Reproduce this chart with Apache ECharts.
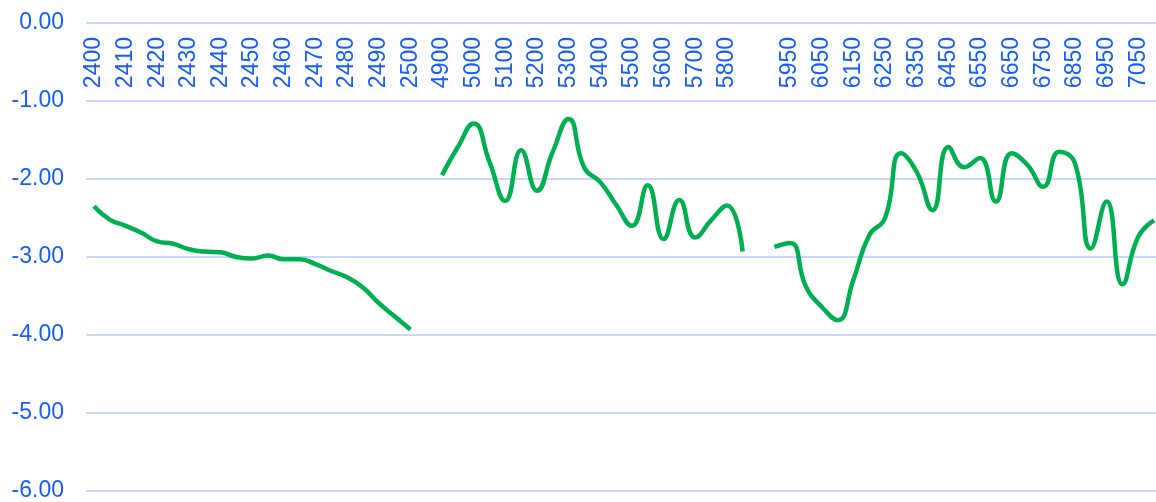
<!DOCTYPE html>
<html>
<head>
<meta charset="utf-8">
<style>
  html, body { margin: 0; padding: 0; background: #ffffff; }
  #depthLine { width: 1156px; height: 502px; }
</style>
<script src="https://cdn.jsdelivr.net/npm/echarts@6/dist/echarts.min.js"></script>
</head>
<body>
<div id="depthLine"></div>
<script>
  // three stretches of depth, with an empty slot between them
  let seg1Cats = ['2400','2405','2410','2415','2420','2425','2430','2435','2440','2445','2450',
                  '2455','2460','2465','2470','2475','2480','2485','2490','2495','2500']
  let seg1Vals = [-2.35,-2.52,-2.60,-2.69,-2.80,-2.83,-2.90,-2.93,-2.94,-3.00,-3.02,
                  -2.98,-3.03,-3.03,-3.09,-3.18,-3.26,-3.39,-3.59,-3.76,-3.93]

  let seg2Cats = ['4900','4950','5000','5050','5100','5150','5200','5250','5300','5350',
                  '5400','5450','5500','5550','5600','5650','5700','5750','5800','5850']
  let seg2Vals = [-1.95,-1.59,-1.29,-1.78,-2.28,-1.63,-2.15,-1.65,-1.23,-1.86,
                  -2.04,-2.33,-2.60,-2.08,-2.77,-2.27,-2.75,-2.53,-2.34,-2.93]

  let seg3Cats = ['5900','5950','6000','6050','6100','6150','6200','6250','6300','6350',
                  '6400','6450','6500','6550','6600','6650','6700','6750','6800','6850',
                  '6900','6950','7000','7050','7100']
  let seg3Vals = [-2.87,-2.82,-3.38,-3.64,-3.81,-3.29,-2.72,-2.50,-1.67,-1.91,
                  -2.40,-1.59,-1.85,-1.73,-2.29,-1.67,-1.82,-2.10,-1.65,-1.80,
                  -2.89,-2.29,-3.35,-2.74,-2.53]

  let categories = seg1Cats.concat([''], seg2Cats, [''], seg3Cats)
  let values = seg1Vals.concat([null], seg2Vals, [null], seg3Vals)

  let blue = '#165DFF'
  let gridBlue = '#c6d8fc'
  let font = 'Liberation Sans, Arial, sans-serif'

  let myChart = echarts.init(document.getElementById('depthLine'))
  myChart.setOption({
    animation: false,
    grid: {
      left: 86,
      right: -6,
      top: 23,
      bottom: 11,
      containLabel: false,
      outerBoundsMode: 'none'
    },
    xAxis: {
      type: 'category',
      position: 'top',
      data: categories,
      boundaryGap: true,
      axisLine: { show: false, onZero: false },
      axisTick: { show: false },
      axisLabel: {
        inside: true,
        interval: 1,
        rotate: -90,
        margin: 14,
        color: blue,
        fontSize: 23,
        fontFamily: font
      },
      splitLine: { show: false }
    },
    yAxis: {
      type: 'value',
      min: -6,
      max: 0,
      interval: 1,
      axisLine: { show: false },
      axisTick: { show: false },
      axisLabel: {
        margin: 22,
        color: blue,
        fontSize: 23,
        fontFamily: font,
        formatter: function (v) { return v.toFixed(2) }
      },
      splitLine: {
        lineStyle: { color: gridBlue, width: 2 }
      }
    },
    series: [{
      type: 'line',
      data: values,
      smooth: true,
      showSymbol: false,
      connectNulls: false,
      lineStyle: { color: '#00b050', width: 4.5 },
      itemStyle: { color: '#00b050' }
    }]
  })
</script>
</body>
</html>
